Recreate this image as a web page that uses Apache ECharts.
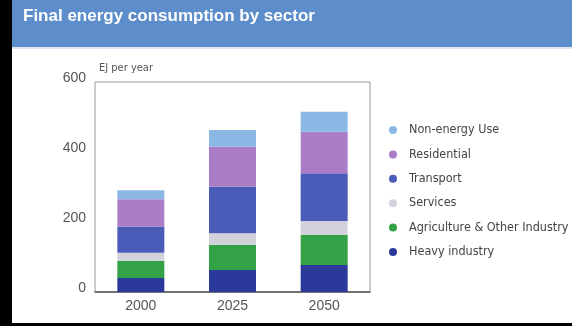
<!DOCTYPE html>
<html>
<head>
<meta charset="utf-8">
<script src="https://cdn.jsdelivr.net/npm/echarts@6/dist/echarts.min.js"></script>
<style>
  html, body { margin: 0; padding: 0; background: #fff; }
  #chart { width: 572px; height: 326px; }
</style>
</head>
<body>
<div id="chart"></div>
<script>
// Final energy consumption by sector, EJ per year
var years = ['2000', '2025', '2050'];
var heavyIndustry = [40, 63, 77];
var agricultureOther = [49, 71, 86];
var services = [23, 34, 40];
var transport = [75, 133, 136];
var residential = [78, 114, 119];
var nonEnergyUse = [26, 48, 57];
var yTicks = [0, 200, 400, 600];

var sectorNames = ['Heavy industry', 'Agriculture & Other Industry', 'Services', 'Transport', 'Residential', 'Non-energy Use'];
var sectorValues = [heavyIndustry, agricultureOther, services, transport, residential, nonEnergyUse];
var sectorColors = ['#2b3a9a', '#33a146', '#d3d2dc', '#4a5cb7', '#ab7dc6', '#8bb8e4'];

var narrow = '"DejaVu Sans Condensed", "Liberation Sans Narrow", sans-serif';

var chart = echarts.init(document.getElementById('chart'), null, { renderer: 'canvas' });

var series = sectorNames.map(function (name, i) {
  return {
    name: name,
    type: 'bar',
    stack: 'total',
    barWidth: 47,
    itemStyle: { color: sectorColors[i] },
    emphasis: { disabled: true },
    data: sectorValues[i]
  };
});

chart.setOption({
  animation: false,
  backgroundColor: '#ffffff',
  grid: {
    left: 95, right: 202, top: 82, bottom: 34,
    show: true, borderColor: '#9a9a9a', borderWidth: 1,
    containLabel: false, outerBoundsMode: 'none'
  },
  legend: {
    orient: 'vertical',
    left: 389,
    top: 123,
    padding: 0,
    icon: 'circle',
    itemWidth: 8,
    itemHeight: 8,
    itemGap: 10.4,
    itemTextGap: 12,
    selectedMode: false,
    data: sectorNames.slice().reverse(),
    textStyle: { color: '#444', fontSize: 12.5, lineHeight: 14, padding: [0, 0, 0, 7], fontFamily: narrow }
  },
  xAxis: {
    type: 'category',
    data: years,
    axisLine: { show: true, lineStyle: { color: '#555', width: 1.5 } },
    axisTick: { show: false },
    axisLabel: { color: '#555', fontSize: 14, margin: 7, fontFamily: 'Liberation Sans, sans-serif' }
  },
  yAxis: {
    type: 'value',
    min: yTicks[0],
    max: yTicks[yTicks.length - 1],
    interval: yTicks[1] - yTicks[0],
    name: 'EJ per year',
    nameLocation: 'end',
    nameGap: 8,
    nameTextStyle: { color: '#555', fontSize: 11, align: 'left', padding: [0, 0, 0, 4], fontFamily: narrow },
    axisLine: { show: false },
    axisTick: { show: false },
    splitLine: { show: false },
    axisLabel: {
      color: '#555', fontSize: 14, margin: 9,
      verticalAlign: 'bottom', lineHeight: 8,
      fontFamily: 'Liberation Sans, sans-serif'
    }
  },
  graphic: [
    { type: 'rect', left: 0, top: 0, shape: { width: 12, height: 326 }, style: { fill: '#000' }, silent: true },
    { type: 'rect', left: 0, top: 323, shape: { width: 572, height: 3 }, style: { fill: '#000' }, silent: true },
    { type: 'rect', left: 12, top: 0, shape: { width: 560, height: 47 }, style: { fill: '#5d8dcb' }, silent: true },
    { type: 'rect', left: 12, top: 47, shape: { width: 560, height: 2 }, style: { fill: '#dbe6f3' }, silent: true },
    {
      type: 'text', left: 23, top: 8, silent: true,
      style: { text: 'Final energy consumption by sector', fill: '#ffffff', fontSize: 17, fontWeight: 'bold', fontFamily: 'Liberation Sans, sans-serif' }
    }
  ],
  series: series
});
</script>
</body>
</html>
